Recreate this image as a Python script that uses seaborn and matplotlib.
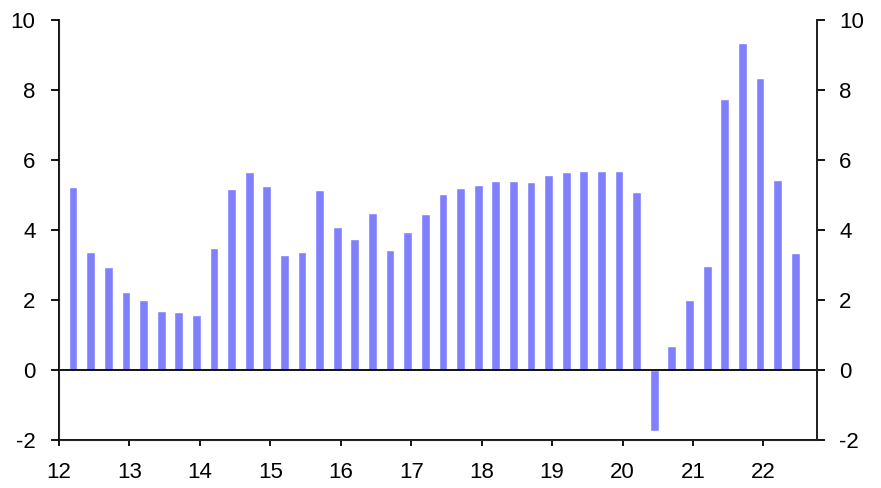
import matplotlib
matplotlib.use('Agg')
import matplotlib.pyplot as plt
import seaborn as sns
import numpy as np

# quarterly values, 2012 Q1 .. 2022 Q2
years = [y for y in range(2012, 2023) for _ in range(4)][:42]
quarters = [q for _ in range(2012, 2023) for q in (1, 2, 3, 4)][:42]
values = [
    5.22, 3.36, 2.93, 2.22,   # 2012
    1.99, 1.68, 1.65, 1.56,   # 2013
    3.48, 5.16, 5.65, 5.25,   # 2014
    3.30, 3.36, 5.13, 4.08,   # 2015
    3.73, 4.48, 3.44, 3.93,   # 2016
    4.45, 5.02, 5.19, 5.30,   # 2017
    5.41, 5.41, 5.36, 5.56,   # 2018
    5.65, 5.70, 5.68, 5.68,   # 2019
    5.08, -1.75, 0.68, 1.99,  # 2020
    2.96, 7.73, 9.33, 8.33,   # 2021
    5.42, 3.33,               # 2022
]
y_ticks = [-2, 0, 2, 4, 6, 8, 10]
x_ticks = list(range(12, 23))

# position on a year axis (two-digit years)
xpos = np.array([(y - 2000) + (q - 1) * 0.25 + 0.2 for y, q in zip(years, quarters)])

sns.set_style('ticks')
plt.rcParams['font.family'] = ['Liberation Sans', 'DejaVu Sans']

fig = plt.figure(figsize=(8.81, 4.88), dpi=100)
ax = fig.add_axes([59 / 881, 1 - 440 / 488, (817 - 59) / 881, (440 - 20) / 488])

sns.barplot(x=xpos, y=values, native_scale=True, width=0.5, color='#8080FF',
            saturation=1, ax=ax, errorbar=None)

ax.axhline(0, color='black', lw=1.3, zorder=3)
ax.set_xlim(12, 22.76)
ax.set_ylim(-2, 10)
ax.set_xticks(x_ticks)
ax.set_xticklabels([str(t) for t in x_ticks])
ax.set_yticks(y_ticks)
ax.set_yticklabels([str(t) for t in y_ticks])
ax.set_xlabel('')
ax.set_ylabel('')

for side in ['left', 'right', 'bottom']:
    ax.spines[side].set_visible(True)
    ax.spines[side].set_color('black')
    ax.spines[side].set_linewidth(1.3)
ax.spines['top'].set_visible(False)

ax.tick_params(axis='y', direction='out', length=6, width=1.3,
               labelsize=16, pad=11, colors='black')
ax.tick_params(axis='x', direction='out', length=4.5, width=1.3,
               labelsize=16, pad=11, colors='black')

# right-hand axis mirrors the left one
ax2 = ax.twinx()
ax2.set_ylim(ax.get_ylim())
ax2.set_yticks(y_ticks)
ax2.set_yticklabels([str(t) for t in y_ticks])
ax2.spines['top'].set_visible(False)
ax2.spines['right'].set_linewidth(1.3)
ax2.tick_params(axis='y', direction='out', length=6, width=1.3,
                labelsize=16, pad=10, colors='black')

fig.savefig('out.png', dpi=100)
